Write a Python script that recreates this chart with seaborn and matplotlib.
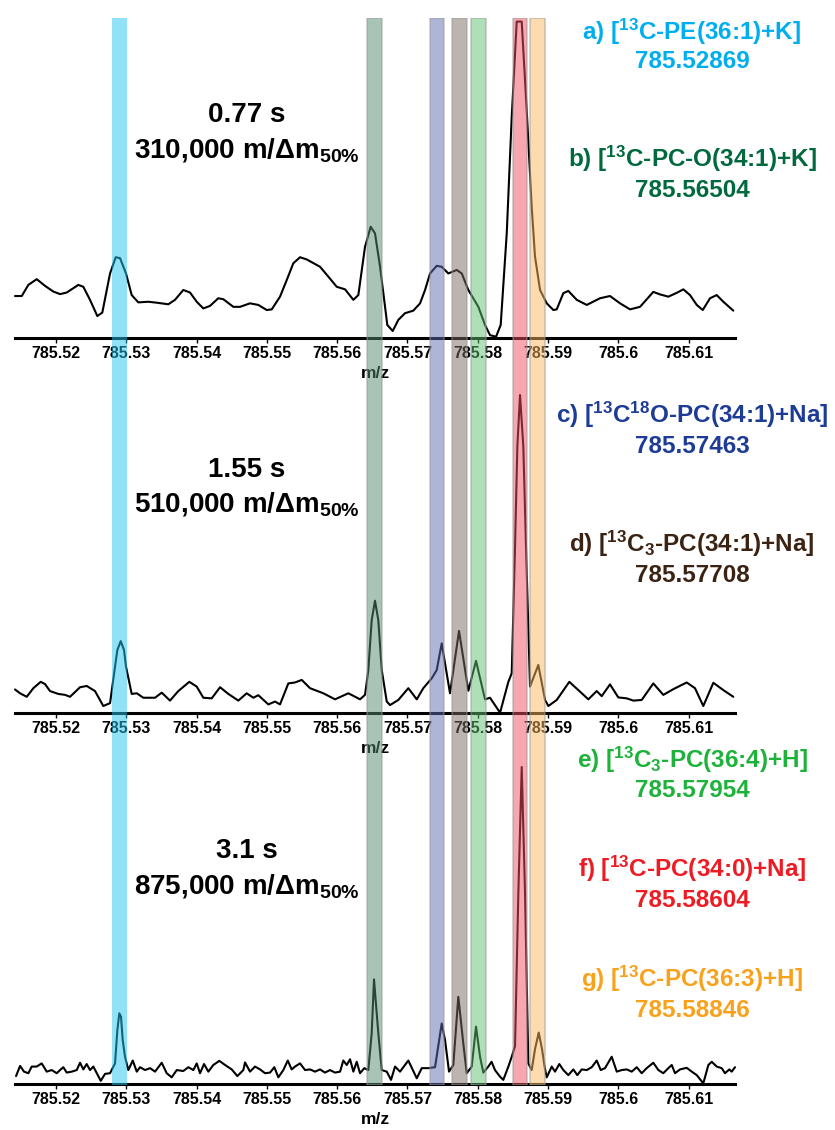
import matplotlib
matplotlib.use('Agg')
import matplotlib.pyplot as plt
import seaborn as sns

# m/z axis ticks
tick_values = [785.52, 785.53, 785.54, 785.55, 785.56, 785.57, 785.58, 785.59, 785.60, 785.61]
tick_labels = ['785.52', '785.53', '785.54', '785.55', '785.56', '785.57',
               '785.58', '785.59', '785.6', '785.61']
mz_min, mz_max = 785.51417, 785.61659

# Spectrum 1: 0.77 s transient
p1_mz = [785.51417, 785.51513, 785.51607, 785.51726, 785.51844, 785.51962, 785.52058, 785.52153,
         785.52318, 785.52389, 785.52484, 785.52588, 785.52659, 785.52769, 785.52850, 785.52911,
         785.52996, 785.53077, 785.53171, 785.53314, 785.53433, 785.53598, 785.53693, 785.53811,
         785.53907, 785.54002, 785.54096, 785.54191, 785.54309, 785.54380, 785.54523, 785.54618,
         785.54760, 785.54878, 785.54998, 785.55069, 785.55187, 785.55282, 785.55376, 785.55472,
         785.55567, 785.55756, 785.55874, 785.55994, 785.56112, 785.56230, 785.56301, 785.56396,
         785.56477, 785.56538, 785.56610, 785.56713, 785.56790, 785.56870, 785.56965, 785.57083,
         785.57179, 785.57250, 785.57321, 785.57416, 785.57487, 785.57581, 785.57701, 785.57772,
         785.57866, 785.58008, 785.58103, 785.58174, 785.58260, 785.58326, 785.58412, 785.58483,
         785.58554, 785.58625, 785.58696, 785.58767, 785.58814, 785.58886, 785.58981, 785.59075,
         785.59123, 785.59217, 785.59288, 785.59408, 785.59550, 785.59739, 785.59881, 785.60024,
         785.60166, 785.60308, 785.60497, 785.60593, 785.60711, 785.60830, 785.60924, 785.61019,
         785.61115, 785.61200, 785.61304, 785.61399, 785.61493, 785.61635]
p1_int = [13.2, 13.2, 16.7, 18.5, 16.4, 14.6, 13.8, 14.3,
          16.7, 16.1, 12.0, 6.9, 8.0, 20.3, 25.4, 25.1,
          20.3, 13.5, 11.2, 11.4, 11.1, 10.6, 12.0, 15.1,
          14.3, 11.4, 9.3, 10.1, 12.5, 12.2, 9.8, 9.8,
          10.9, 10.4, 8.8, 9.0, 13.0, 18.2, 23.5, 25.4,
          24.7, 22.4, 19.3, 16.1, 15.3, 12.0, 13.5, 28.7,
          35.0, 32.9, 22.4, 4.1, 2.2, 5.7, 7.8, 8.6,
          10.9, 15.1, 20.3, 22.7, 22.4, 20.3, 21.4, 20.3,
          15.1, 9.8, 4.1, 0.9, 0.4, 4.1, 32.9, 69.6,
          99.5, 99.5, 71.7, 41.3, 25.6, 15.1, 10.9, 8.8,
          9.0, 14.1, 14.8, 12.0, 10.4, 12.5, 13.2, 10.9,
          9.0, 9.8, 14.5, 13.7, 13.0, 14.2, 15.3, 13.5,
          10.4, 8.8, 12.5, 13.5, 11.4, 8.6]

# Spectrum 2: 1.55 s transient
p2_mz = [785.51417, 785.51489, 785.51584, 785.51678, 785.51783, 785.51844, 785.51915, 785.52033,
         785.52129, 785.52200, 785.52342, 785.52437, 785.52555, 785.52673, 785.52769, 785.52840,
         785.52873, 785.52921, 785.52968, 785.52996, 785.53077, 785.53149, 785.53242, 785.53409,
         785.53504, 785.53622, 785.53740, 785.53897, 785.54002, 785.54096, 785.54215, 785.54334,
         785.54452, 785.54594, 785.54713, 785.54807, 785.54878, 785.55021, 785.55116, 785.55187,
         785.55305, 785.55400, 785.55496, 785.55614, 785.55803, 785.55969, 785.56159, 785.56325,
         785.56396, 785.56443, 785.56491, 785.56538, 785.56585, 785.56634, 785.56705, 785.56752,
         785.56870, 785.57012, 785.57132, 785.57225, 785.57345, 785.57416, 785.57487, 785.57605,
         785.57733, 785.57866, 785.57975, 785.58103, 785.58174, 785.58317, 785.58435, 785.58483,
         785.58530, 785.58563, 785.58601, 785.58648, 785.58686, 785.58743, 785.58861, 785.58957,
         785.59004, 785.59123, 785.59302, 785.59455, 785.59573, 785.59692, 785.59763, 785.59881,
         785.59999, 785.60119, 785.60213, 785.60332, 785.60497, 785.60639, 785.60782, 785.60972,
         785.61090, 785.61208, 785.61351, 785.61493, 785.61635]
p2_int = [7.4, 6.2, 5.1, 7.8, 9.8, 9.1, 6.9, 6.0,
          5.7, 5.1, 8.1, 8.5, 6.9, 2.2, 3.1, 14.6,
          19.8, 22.6, 19.8, 14.6, 6.0, 6.2, 4.8, 4.8,
          6.4, 3.9, 6.9, 9.8, 8.3, 4.8, 4.6, 8.1,
          6.0, 3.9, 6.2, 4.8, 5.6, 2.7, 3.6, 2.7,
          9.3, 9.6, 10.4, 7.8, 6.2, 4.3, 6.2, 4.3,
          5.7, 13.5, 29.2, 35.3, 29.2, 13.5, 3.6, 2.5,
          4.1, 7.8, 4.3, 7.8, 10.9, 13.5, 21.9, 6.2,
          25.8, 7.0, 16.4, 4.3, 4.8, 0.1, 9.8, 12.5,
          52.3, 83.8, 100.0, 83.8, 52.3, 8.3, 15.1, 4.1,
          2.2, 4.1, 9.8, 6.7, 4.3, 6.9, 5.3, 9.0,
          4.9, 4.6, 3.9, 4.1, 9.3, 5.7, 7.5, 9.6,
          7.8, 2.2, 9.5, 7.2, 5.1]

# Spectrum 3: 3.1 s transient
p3_mz = [785.51432, 785.51489, 785.51545, 785.51607, 785.51655, 785.51726, 785.51797, 785.51868,
         785.51939, 785.52011, 785.52058, 785.52104, 785.52153, 785.52224, 785.52295, 785.52342,
         785.52389, 785.52437, 785.52484, 785.52531, 785.52580, 785.52637, 785.52698, 785.52769,
         785.52840, 785.52873, 785.52901, 785.52925, 785.52949, 785.52982, 785.53029, 785.53092,
         785.53149, 785.53196, 785.53267, 785.53338, 785.53409, 785.53504, 785.53575, 785.53646,
         785.53718, 785.53811, 785.53883, 785.53954, 785.54002, 785.54049, 785.54106, 785.54167,
         785.54238, 785.54324, 785.54405, 785.54500, 785.54580, 785.54665, 785.54689, 785.54760,
         785.54831, 785.54903, 785.54974, 785.55045, 785.55106, 785.55163, 785.55234, 785.55297,
         785.55353, 785.55400, 785.55472, 785.55543, 785.55614, 785.55685, 785.55756, 785.55827,
         785.55898, 785.55969, 785.56041, 785.56087, 785.56136, 785.56183, 785.56230, 785.56278,
         785.56325, 785.56386, 785.56443, 785.56491, 785.56524, 785.56585, 785.56634, 785.56705,
         785.56766, 785.56823, 785.56894, 785.57012, 785.57132, 785.57203, 785.57297, 785.57392,
         785.57487, 785.57534, 785.57591, 785.57652, 785.57723, 785.57794, 785.57843, 785.57914,
         785.57975, 785.58032, 785.58079, 785.58150, 785.58196, 785.58245, 785.58317, 785.58363,
         785.58435, 785.58483, 785.58530, 785.58577, 785.58625, 785.58672, 785.58719, 785.58767,
         785.58814, 785.58867, 785.58914, 785.58950, 785.58981, 785.59052, 785.59099, 785.59160,
         785.59217, 785.59288, 785.59359, 785.59416, 785.59479, 785.59550, 785.59621, 785.59692,
         785.59749, 785.59810, 785.59905, 785.59977, 785.60048, 785.60119, 785.60190, 785.60261,
         785.60332, 785.60403, 785.60497, 785.60569, 785.60639, 785.60711, 785.60759, 785.60806,
         785.60877, 785.60972, 785.61044, 785.61115, 785.61208, 785.61280, 785.61328, 785.61399,
         785.61470, 785.61517, 785.61579, 785.61612, 785.61659]
p3_int = [2.5, 5.7, 3.9, 3.4, 5.5, 5.5, 6.5, 3.9,
          4.4, 3.4, 4.4, 5.3, 3.6, 3.9, 4.4, 6.7,
          4.6, 6.3, 4.4, 5.5, 3.4, 1.0, 3.2, 3.4,
          6.5, 17.0, 22.3, 21.2, 13.9, 8.6, 4.4, 7.4,
          3.9, 5.3, 4.4, 5.0, 3.9, 6.7, 3.4, 2.1,
          4.4, 4.1, 5.3, 4.4, 6.5, 3.4, 6.3, 3.9,
          6.0, 7.3, 6.0, 4.6, 2.5, 4.4, 6.8, 3.9,
          5.5, 4.6, 3.4, 3.6, 5.3, 2.1, 4.4, 7.4,
          4.6, 5.5, 6.5, 4.4, 4.6, 3.9, 4.6, 3.6,
          4.4, 3.6, 3.9, 7.4, 6.0, 7.8, 3.9, 7.0,
          3.4, 5.0, 4.4, 16.0, 33.0, 16.0, 4.4, 3.9,
          1.3, 5.5, 3.9, 7.4, 1.8, 5.0, 5.0, 5.3,
          19.1, 13.9, 3.9, 6.0, 27.5, 12.8, 3.4, 5.5,
          18.1, 8.6, 3.6, 5.5, 7.0, 4.4, 2.3, 1.3,
          5.5, 8.6, 12.0, 60.2, 100.0, 60.2, 6.5, 4.4,
          11.0, 16.2, 11.0, 5.5, 2.1, 5.5, 3.9, 6.3,
          4.4, 2.8, 4.6, 2.8, 4.6, 4.4, 5.3, 7.4,
          4.4, 5.0, 8.6, 3.9, 4.4, 4.6, 3.9, 5.3,
          3.4, 5.0, 6.7, 4.4, 3.4, 5.0, 6.0, 3.4,
          4.6, 5.1, 3.9, 2.8, 0.2, 6.0, 7.0, 5.5,
          5.0, 3.4, 4.6, 3.9, 5.3]

# annotated species
species = ['a) [$^{13}$C-PE(36:1)+K]', 'b) [$^{13}$C-PC-O(34:1)+K]',
           'c) [$^{13}$C$^{18}$O-PC(34:1)+Na]', 'd) [$^{13}$C$_{3}$-PC(34:1)+Na]',
           'e) [$^{13}$C$_{3}$-PC(36:4)+H]', 'f) [$^{13}$C-PC(34:0)+Na]',
           'g) [$^{13}$C-PC(36:3)+H]']
species_mass = [785.52869, 785.56504, 785.57463, 785.57708, 785.57954, 785.58604, 785.58846]
species_color = ['#00AEEF', '#00693E', '#1E3C96', '#3B2314', '#1DB33A', '#ED1C24', '#F9A11B']
band_center = [785.5290, 785.5653, 785.5742, 785.5774, 785.5801, 785.5860, 785.5885]
band_color = ['#25C5F1', '#518B71', '#616DB1', '#7B6B61', '#61C171', '#F15161', '#FBBB61']
band_width = 0.0021

transient = ['0.77 s', '1.55 s', '3.1 s']
resolving = ['310,000', '510,000', '875,000']

sns.set_style('white')
plt.rcParams['font.family'] = ['Liberation Sans', 'DejaVu Sans']
plt.rcParams['text.color'] = 'black'
plt.rcParams['axes.labelcolor'] = 'black'
plt.rcParams['xtick.color'] = 'black'
plt.rcParams['mathtext.fontset'] = 'custom'
plt.rcParams['mathtext.rm'] = 'Liberation Sans:bold'
plt.rcParams['mathtext.it'] = 'Liberation Sans:bold'
plt.rcParams['mathtext.bf'] = 'Liberation Sans:bold'
plt.rcParams['mathtext.default'] = 'rm'

W, H = 835, 1130
fig = plt.figure(figsize=(W / 100, H / 100), dpi=100)


def fx(px):
    return px / W


def fy(py):
    return 1 - py / H


# panel boxes in pixels (top, bottom)
boxes = [(20, 338), (395, 713), (767, 1084)]
spectra = [(p1_mz, p1_int), (p2_mz, p2_int), (p3_mz, p3_int)]
left, right = 15, 735

for (top, bottom), (mz, inten) in zip(boxes, spectra):
    ax = fig.add_axes([fx(left), fy(bottom), (right - left) / W, (bottom - top) / H])
    sns.lineplot(x=mz, y=inten, ax=ax, color='black', lw=1.5, estimator=None, sort=False)
    for line in ax.lines:
        line.set_clip_on(False)
    ax.set_xlim(mz_min, mz_max)
    ax.set_ylim(0, 100)
    ax.set_facecolor('none')
    for s in ['top', 'left', 'right']:
        ax.spines[s].set_visible(False)
    ax.spines['bottom'].set_linewidth(2.2)
    ax.spines['bottom'].set_color('black')
    ax.set_yticks([])
    ax.set_ylabel('')
    ax.set_xticks(tick_values)
    ax.set_xticklabels(tick_labels, fontweight='bold', fontsize=11.5, color='black')
    ax.tick_params(axis='x', bottom=True, direction='out', length=3.5, width=1, pad=2, colors='black')
    ax.set_xlabel('m/z', fontweight='bold', fontsize=12.5, labelpad=4, color='black')

# highlighted bands across all three spectra
bax = fig.add_axes([fx(left), fy(1085), (right - left) / W, (1085 - 18) / H])
bax.set_xlim(mz_min, mz_max)
bax.set_ylim(0, 1)
bax.axis('off')
bax.patch.set_alpha(0)
for i, (c, col) in enumerate(zip(band_center, band_color)):
    ec = 'none' if i == 0 else '#999999'
    bax.axvspan(c - band_width / 2, c + band_width / 2, facecolor=col, edgecolor=ec,
                alpha=0.5, lw=1.2)

# transient length / resolving power
time_base = [122, 477, 858]
res_base = [157, 512, 893]
for t, r, yb1, yb2 in zip(transient, resolving, time_base, res_base):
    fig.text(fx(247), fy(yb1), t, ha='center', va='baseline', fontsize=20,
             fontweight='bold', color='black')
    fig.text(fx(247), fy(yb2), r + ' m/\u0394m$_{50\\%}$', ha='center', va='baseline',
             fontsize=20, fontweight='bold', color='black')

# species labels
name_base = [40, 167, 423, 552, 768, 877, 987]
mass_base = [68, 197, 453, 582, 797, 907, 1017]
for name, m, col, yb1, yb2 in zip(species, species_mass, species_color, name_base, mass_base):
    fig.text(fx(692), fy(yb1), name, ha='center', va='baseline', fontsize=17.5,
             fontweight='bold', color=col)
    fig.text(fx(692), fy(yb2), f'{m:.5f}', ha='center', va='baseline', fontsize=17.5,
             fontweight='bold', color=col)

fig.savefig('out.png', dpi=100)
